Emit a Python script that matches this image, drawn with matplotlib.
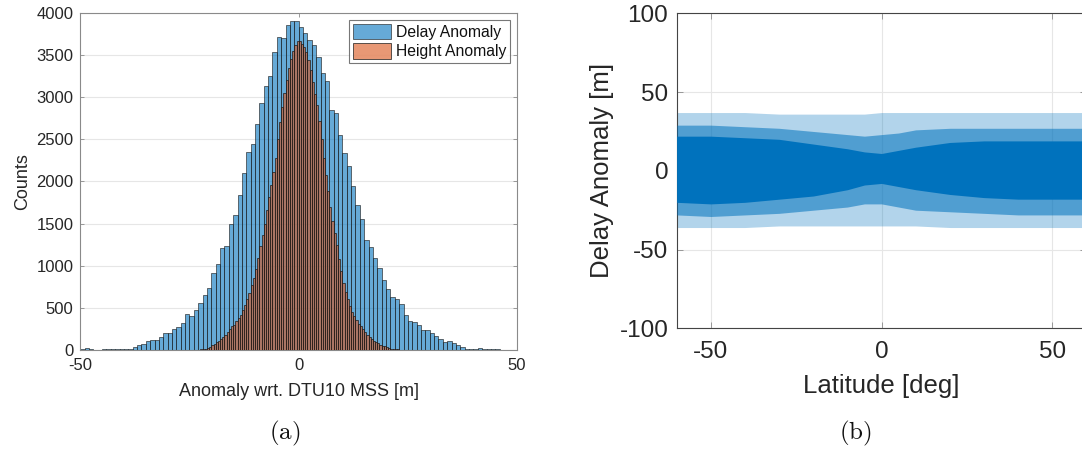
import matplotlib
matplotlib.use("Agg")
import matplotlib.pyplot as plt
import numpy as np

# ---------------- data ----------------
# Delay anomaly histogram: bins of width 1 m, left edges from -50
delay_left_edge = -50
delay_bin_width = 1.0
delay_counts = [8, 20, 8, 6, 6, 8, 8, 12, 16, 10,
                16, 12, 36, 63, 75, 107, 123, 115, 150, 206,
                198, 250, 270, 324, 423, 400, 475, 562, 653, 732,
                910, 1021, 1215, 1235, 1492, 1603, 1844, 2097, 2343, 2441,
                2680, 2928, 3126, 3250, 3534, 3710, 3705, 3858, 3897, 3897,
                3828, 3759, 3676, 3620, 3478, 3290, 3185, 2848, 2805, 2552,
                2335, 2186, 1947, 1721, 1551, 1306, 1227, 1088, 969, 831,
                720, 633, 601, 542, 415, 348, 336, 293, 237, 232,
                206, 166, 130, 99, 107, 79, 63, 32, 16, 12,
                12, 20, 8, 8, 8, 8, 4]

# Height anomaly histogram: bins of width 0.5 m, left edges from -25
height_left_edge = -25
height_bin_width = 0.5
height_counts = [2, 3, 4, 5, 6, 8, 11, 16, 24, 40,
                 55, 75, 95, 112, 128, 150, 180, 215, 250, 280,
                 300, 340, 380, 420, 480, 535, 600, 680, 770, 850,
                 960, 1090, 1230, 1360, 1500, 1660, 1810, 1960, 2110, 2280,
                 2500, 2700, 2880, 3050, 3200, 3340, 3450, 3550, 3620, 3660,
                 3665, 3630, 3590, 3530, 3440, 3320, 3180, 3040, 2900, 2720,
                 2500, 2280, 2080, 1880, 1690, 1530, 1390, 1250, 1080, 940,
                 800, 690, 600, 520, 450, 400, 350, 310, 280, 250,
                 210, 180, 155, 130, 112, 98, 80, 65, 52, 42,
                 32, 22, 16, 12, 9, 7, 5, 4, 3, 2]

# Delay anomaly vs latitude: envelope of the dense point cloud
lat = [-60, -50, -40, -30, -20, -10, -5, 0, 5, 10, 20, 30, 40, 50, 60]
core_top = [22, 22, 21, 20, 17, 14, 12, 11, 13, 15, 18, 19, 19, 19, 19]
core_bot = [-20, -21, -20, -18, -16, -12, -9, -8, -10, -12, -15, -17, -18, -18, -18]
mid_top = [29, 29, 28, 27, 25, 23, 22, 23, 24, 26, 27, 27, 27, 27, 27]
mid_bot = [-28, -29, -28, -27, -25, -23, -21, -21, -23, -25, -26, -27, -28, -28, -28]
outer_top = [37, 37, 37, 36, 36, 36, 36, 37, 37, 37, 37, 37, 37, 37, 37]
outer_bot = [-36, -36, -36, -35, -35, -35, -35, -35, -35, -35, -36, -36, -36, -36, -36]

hist_xticks = [-50, 0, 50]
hist_yticks = [0, 500, 1000, 1500, 2000, 2500, 3000, 3500, 4000]
lat_ticks = [-50, 0, 50]
anom_ticks = [-100, -50, 0, 50, 100]

# ---------------- style ----------------
plt.rcParams["font.family"] = ["Liberation Sans", "DejaVu Sans"]
plt.rcParams["mathtext.fontset"] = "cm"
plt.rcParams["axes.unicode_minus"] = False

blue = (0.0, 0.447, 0.741)
orange = (0.85, 0.325, 0.098)
txt = "#262626"
spine_c = "#8a8a8a"
grid_c = "#e6e6e6"

fig = plt.figure(figsize=(10.82, 4.5), dpi=100)

# ---------------- left: histogram ----------------
ax1 = fig.add_axes([0.0742, 0.2222, 0.4037, 0.7496])
d_edges = delay_left_edge + delay_bin_width * np.arange(len(delay_counts))
h_edges = height_left_edge + height_bin_width * np.arange(len(height_counts))
ax1.bar(d_edges, delay_counts, width=delay_bin_width, align="edge",
        facecolor=blue + (0.6,), edgecolor=(0.1, 0.1, 0.1, 0.85), linewidth=0.5,
        label="Delay Anomaly", zorder=2)
ax1.bar(h_edges, height_counts, width=height_bin_width, align="edge",
        facecolor=orange + (0.6,), edgecolor=(0.1, 0.1, 0.1, 0.9), linewidth=0.55,
        label="Height Anomaly", zorder=3)
ax1.set_xlim(-50, 50)
ax1.set_ylim(0, 4000)
ax1.set_xticks(hist_xticks)
ax1.set_yticks(hist_yticks)
ax1.yaxis.grid(True, color=grid_c, linewidth=0.8, zorder=0)
ax1.set_axisbelow(True)
ax1.tick_params(direction="in", length=3, width=0.6, colors=spine_c,
                labelcolor=txt, labelsize=12, top=True, right=True)
ax1.tick_params(axis="x", pad=6)
ax1.tick_params(axis="y", pad=5)
for s in ax1.spines.values():
    s.set_color(spine_c)
    s.set_linewidth(0.8)
ax1.set_ylabel("Counts", fontsize=13, color=txt, labelpad=4)
ax1.set_xlabel("Anomaly wrt. DTU10 MSS [m]", fontsize=13, color=txt, labelpad=7)
leg = ax1.legend(loc="upper right", fontsize=11.3, frameon=True, fancybox=False,
                 handlelength=2.4, handleheight=1.1, handletextpad=0.3,
                 borderpad=0.25, labelspacing=0.25, borderaxespad=0.45)
leg.get_frame().set_edgecolor("#555555")
leg.get_frame().set_linewidth(0.8)
for t in leg.get_texts():
    t.set_color("#111111")

# ---------------- right: delay anomaly vs latitude ----------------
ax2 = fig.add_axes([0.6254, 0.2704, 0.3786, 0.7000])
ax2.fill_between(lat, outer_bot, outer_top, color=blue, alpha=0.3, linewidth=0, zorder=2)
ax2.fill_between(lat, mid_bot, mid_top, color=blue, alpha=0.55, linewidth=0, zorder=3)
ax2.fill_between(lat, core_bot, core_top, color=blue, alpha=1.0, linewidth=0, zorder=4)
ax2.set_xlim(-60, 60)
ax2.set_ylim(-100, 100)
ax2.set_xticks(lat_ticks)
ax2.set_yticks(anom_ticks)
ax2.grid(True, color=grid_c, linewidth=0.8, zorder=0)
ax2.set_axisbelow(True)
ax2.tick_params(direction="in", length=4, width=0.6, colors=spine_c,
                labelcolor=txt, labelsize=17.5, top=True, right=True)
ax2.tick_params(axis="x", pad=9)
ax2.tick_params(axis="y", pad=6)
for s in ax2.spines.values():
    s.set_color("#444444")
    s.set_linewidth(0.8)
ax2.set_ylabel("Delay Anomaly [m]", fontsize=18.5, color=txt, labelpad=4)
ax2.set_xlabel("Latitude [deg]", fontsize=18.5, color=txt, labelpad=8)

# ---------------- captions ----------------
fig.text(0.2635, 0.037, r"$\mathrm{(a)}$", fontsize=18, ha="center", va="center", color="#111111")
fig.text(0.7905, 0.037, r"$\mathrm{(b)}$", fontsize=18, ha="center", va="center", color="#111111")

fig.savefig("out.png", dpi=100)
